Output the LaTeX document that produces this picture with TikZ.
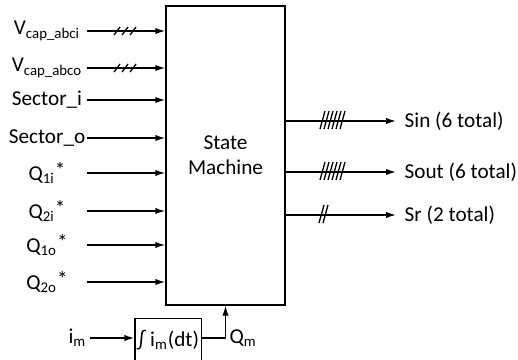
\documentclass[tikz,border=0pt]{standalone}
\usepackage{fontspec}
\setmainfont{Carlito}
\usetikzlibrary{arrows.meta}
\begin{document}
\begin{tikzpicture}[x=0.5pt, y=-0.5pt, >={Latex[length=5pt,width=3.2pt]}, line width=0.7pt,
    font=\fontsize{10.6}{12.5}\selectfont,
    box/.style={draw, inner sep=0pt, align=center},
    lbl/.style={inner sep=0pt},
    arr/.style={->},
    hatch/.style={line width=0.65pt}]
  \clip (0,0) rectangle (518,359);
  \node[box, minimum width=59.5pt, minimum height=149.5pt] (sm) at (225.5,155.5) {State\\Machine};
  % inputs
  \foreach \yy/\txt [count=\n] in {31/{V\textsubscript{cap\_abci}}, 68/{V\textsubscript{cap\_abco}},
      100/{Sector\_i}, 138/{Sector\_o},
      173/{Q\textsubscript{1i}\raisebox{0.3ex}{*}}, 211/{Q\textsubscript{2i}\raisebox{0.3ex}{*}},
      245/{Q\textsubscript{1o}\raisebox{0.3ex}{*}}, 282/{Q\textsubscript{2o}\raisebox{0.3ex}{*}}} {
    \node[lbl] (lb\n) at (47,\yy) {\txt};
    \coordinate (s\n) at (87,\yy);
    \draw[arr] (s\n) -- (s\n -| sm.west);
  }
  \foreach \yy in {31,68}
    \foreach \k in {0,1,2}
      \draw[hatch] (114+8*\k,\yy+4) -- ++(6,-8);
  % outputs
  \foreach \yy/\txt/\nh/\hx [count=\n] in {121/{Sin (6 total)}/5/320, 172/{Sout (6 total)}/5/320, 215/{Sr (2 total)}/1/319} {
    \coordinate (o\n) at (396,\yy);
    \draw[arr] (o\n -| sm.east) -- (o\n);
    \node[lbl, anchor=west] (ol\n) at (404,\yy) {\txt};
    \foreach \k in {0,...,\nh}
      \draw[hatch] (\hx+4*\k,\yy+8) -- ++(5,-18);
  }
  % integrator
  \node[box, minimum width=33.3pt, minimum height=22pt] (intg) at (168.3,340.3) {∫ i\textsubscript{m}(dt)};
  \node[lbl, anchor=east, inner sep=1.5pt] (im) at (90,338) {i\textsubscript{m}};
  \draw[arr] (im.east) -- (im.east -| intg.west);
  \draw[arr] (im.east -| intg.east) -| (sm.south);
  \node[lbl, anchor=west] (qm) at (229,338) {Q\textsubscript{m}};
\end{tikzpicture}
\end{document}
